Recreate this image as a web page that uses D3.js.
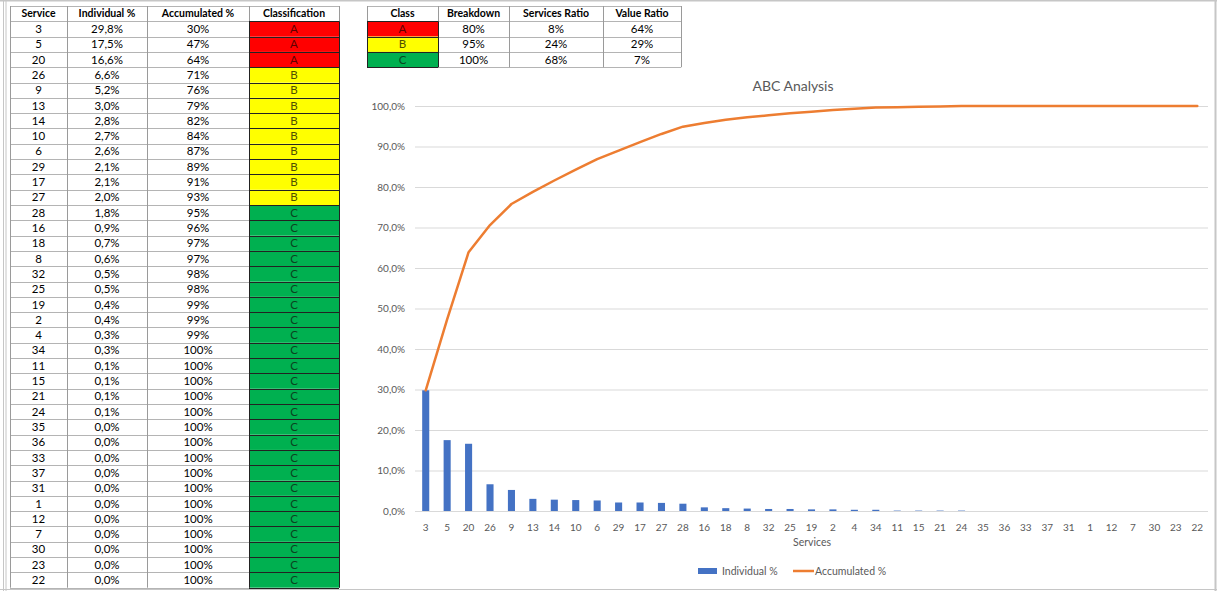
<!DOCTYPE html>
<html>
<head>
<meta charset="utf-8">
<script src="https://cdn.jsdelivr.net/npm/d3@7"></script>
<style>
  html, body { margin: 0; padding: 0; background: #fff; }
  svg { display: block; font-family: Lato, "Liberation Sans", sans-serif; }
</style>
</head>
<body>
<svg id="sheet" width="1217" height="591"></svg>
<script>
// Services sorted by share, with individual and accumulated percentages
const services = ["3","5","20","26","9","13","14","10","6","29","17","27","28","16","18","8","32","25","19","2","4","34","11","15","21","24","35","36","33","37","31","1","12","7","30","23","22"];
const individual = [29.8,17.5,16.6,6.6,5.2,3.0,2.8,2.7,2.6,2.1,2.1,2.0,1.8,0.9,0.7,0.6,0.5,0.5,0.4,0.4,0.3,0.3,0.1,0.1,0.1,0.1,0,0,0,0,0,0,0,0,0,0,0];
const accumulated = [29.8,47.3,63.9,70.6,75.8,78.8,81.6,84.3,86.9,89.0,91.1,93.1,94.9,95.8,96.6,97.2,97.7,98.2,98.6,99.0,99.3,99.6,99.7,99.8,99.9,100,100,100,100,100,100,100,100,100,100,100,100];
const classification = ["A","A","A","B","B","B","B","B","B","B","B","B","C","C","C","C","C","C","C","C","C","C","C","C","C","C","C","C","C","C","C","C","C","C","C","C","C"];

// Class summary
const classes = ["A","B","C"];
const breakdown = [80,95,100];
const servicesRatio = [8,24,68];
const valueRatio = [64,29,7];

const classColors = { A: "#FF0000", B: "#FFFF00", C: "#00B050" };
const classText = { A: "#600000", B: "#505000", C: "#0a4420" };

const mainHeaders = ["Service","Individual %","Accumulated %","Classification"];
const summaryHeaders = ["Class","Breakdown","Services Ratio","Value Ratio"];
const yTicks = [0,10,20,30,40,50,60,70,80,90,100];

const locale = d3.formatLocale({ decimal: ",", thousands: ".", grouping: [3], currency: ["", ""] });
const fmt1 = locale.format(".1f");
const fmt0 = locale.format(".0f");
const pct1 = v => fmt1(v) + "%";
const pct0 = v => fmt0(v) + "%";

const svg = d3.select("#sheet");

// Sheet frame
const frame = svg.append("g").attr("stroke", "#c6c6c6").attr("fill", "none");
frame.append("line").attr("x1", 0).attr("x2", 1217).attr("y1", 0.5).attr("y2", 0.5).attr("stroke-width", 2);
frame.append("line").attr("x1", 1215.5).attr("x2", 1215.5).attr("y1", 0).attr("y2", 591).attr("stroke-width", 2);
frame.append("line").attr("x1", 3.5).attr("x2", 3.5).attr("y1", 0).attr("y2", 591);
frame.append("line").attr("x1", 6).attr("x2", 6).attr("y1", 0).attr("y2", 591);
frame.append("line").attr("x1", 0).attr("x2", 1217).attr("y1", 589.5).attr("y2", 589.5);

// Generic table drawer
function drawTable(g, colEdges, rowTop, rowH, headers, rows, fills, textFills) {
  const nRows = rows.length;
  const yTop = i => rowTop + i * rowH;
  headers.forEach((h, c) => {
    g.append("text")
      .attr("x", (colEdges[c] + colEdges[c + 1]) / 2)
      .attr("y", yTop(0) + rowH / 2)
      .attr("dy", "0.35em")
      .attr("text-anchor", "middle")
      .attr("font-size", 10.5)
      .attr("font-weight", "bold")
      .attr("fill", "#000")
      .text(h);
  });
  rows.forEach((row, r) => {
    row.forEach((val, c) => {
      const x0 = colEdges[c], x1 = colEdges[c + 1];
      const y0 = yTop(r + 1);
      const fill = fills(r, c);
      if (fill) {
        g.append("rect").attr("x", x0).attr("y", y0).attr("width", x1 - x0).attr("height", rowH).attr("fill", fill);
      }
      g.append("text")
        .attr("x", (x0 + x1) / 2)
        .attr("y", y0 + rowH / 2)
        .attr("dy", "0.35em")
        .attr("text-anchor", "middle")
        .attr("font-size", 11.5)
        .attr("fill", textFills(r, c))
        .text(val);
    });
  });
  const grid = g.append("g").attr("stroke", "#b4b4b4").attr("stroke-width", 1).attr("fill", "none");
  for (let r = 0; r <= nRows + 1; r++) {
    const y = Math.round(yTop(r)) + 0.5;
    grid.append("line").attr("x1", colEdges[0]).attr("x2", colEdges[colEdges.length - 1]).attr("y1", y).attr("y2", y);
  }
  colEdges.forEach(x => {
    grid.append("line").attr("x1", Math.round(x) + 0.5).attr("x2", Math.round(x) + 0.5)
      .attr("y1", yTop(0)).attr("y2", yTop(nRows + 1)).attr("stroke", "#9a9a9a");
  });
}

// Darker outlines around coloured cells
function outlineColoured(g, x0, x1, rowTop, rowH, n) {
  const o = g.append("g").attr("stroke", "#222").attr("stroke-width", 1).attr("fill", "none");
  for (let r = 1; r <= n + 1; r++) {
    const y = Math.round(rowTop + r * rowH) + 0.5;
    o.append("line").attr("x1", x0).attr("x2", x1).attr("y1", y).attr("y2", y);
  }
  [x0, x1].forEach(x => o.append("line").attr("x1", Math.round(x) + 0.5).attr("x2", Math.round(x) + 0.5)
    .attr("y1", rowTop + rowH).attr("y2", rowTop + (n + 1) * rowH));
}

// Main services table
const mainCols = [10, 67, 147, 249, 339];
const mainRowH = (587.7 - 6) / 38;
const mainRows = services.map((s, i) => [s, pct1(individual[i]), pct0(accumulated[i]), classification[i]]);
const gMain = svg.append("g");
drawTable(gMain, mainCols, 6, mainRowH, mainHeaders, mainRows,
  (r, c) => c === 3 ? classColors[classification[r]] : null,
  (r, c) => c === 3 ? classText[classification[r]] : "#000");
outlineColoured(gMain, mainCols[3], mainCols[4], 6, mainRowH, services.length);

// Class summary table
const sumCols = [367, 438, 509, 603, 681];
const sumRows = classes.map((k, i) => [k, pct0(breakdown[i]), pct0(servicesRatio[i]), pct0(valueRatio[i])]);
const gSum = svg.append("g");
drawTable(gSum, sumCols, 6, mainRowH, summaryHeaders, sumRows,
  (r, c) => c === 0 ? classColors[classes[r]] : null,
  (r, c) => c === 0 ? classText[classes[r]] : "#000");
outlineColoured(gSum, sumCols[0], sumCols[1], 6, mainRowH, classes.length);

// ABC chart
const x = d3.scaleBand().domain(services).range([415, 1208]).paddingInner(0.67).paddingOuter(0.335);
const y = d3.scaleLinear().domain([0, 100]).range([511, 106]);
const chart = svg.append("g");
const axisGray = "#595959";

chart.append("text").attr("x", 793).attr("y", 86).attr("dy", "0.35em").attr("text-anchor", "middle")
  .attr("font-size", 14).attr("fill", axisGray).text("ABC Analysis");

// gridlines and y labels
const yAxis = d3.axisLeft(y).tickValues(yTicks).tickSize(-(1208 - 415)).tickPadding(10)
  .tickFormat(d => pct1(d));
const gy = chart.append("g").attr("transform", "translate(415,0)").call(yAxis);
gy.select(".domain").remove();
gy.selectAll(".tick line").attr("stroke", "#d9d9d9");
gy.selectAll(".tick text").attr("fill", axisGray).attr("font-size", 10).attr("font-family", "Lato, sans-serif");

// bars
chart.append("g").selectAll("rect").data(services).join("rect")
  .attr("x", d => x(d))
  .attr("width", x.bandwidth())
  .attr("y", (d, i) => y(individual[i]))
  .attr("height", (d, i) => y(0) - y(individual[i]))
  .attr("fill", "#4472C4");

// accumulated line
const line = d3.line().x(d => x(d[0]) + x.bandwidth() / 2).y(d => y(d[1]));
chart.append("path").datum(services.map((s, i) => [s, accumulated[i]]))
  .attr("d", line).attr("fill", "none").attr("stroke", "#ED7D31").attr("stroke-width", 2.5)
  .attr("stroke-linejoin", "round").attr("stroke-linecap", "round");

// x labels
const xAxis = d3.axisBottom(x).tickSize(0).tickPadding(13);
const gx = chart.append("g").attr("transform", "translate(0,511)").call(xAxis);
gx.select(".domain").remove();
gx.selectAll(".tick text").attr("fill", axisGray).attr("font-size", 10).attr("font-family", "Lato, sans-serif");

chart.append("text").attr("x", 812).attr("y", 542).attr("dy", "0.35em").attr("text-anchor", "middle")
  .attr("font-size", 10.5).attr("fill", axisGray).text("Services");

// legend
const lg = chart.append("g");
lg.append("rect").attr("x", 698).attr("y", 568).attr("width", 19).attr("height", 6).attr("fill", "#4472C4");
lg.append("text").attr("x", 722).attr("y", 571).attr("dy", "0.35em").attr("font-size", 10.5).attr("fill", axisGray).text("Individual %");
lg.append("line").attr("x1", 793).attr("x2", 814).attr("y1", 571).attr("y2", 571).attr("stroke", "#ED7D31").attr("stroke-width", 2.5);
lg.append("text").attr("x", 815).attr("y", 571).attr("dy", "0.35em").attr("font-size", 10.5).attr("fill", axisGray).text("Accumulated %");
</script>
</body>
</html>
